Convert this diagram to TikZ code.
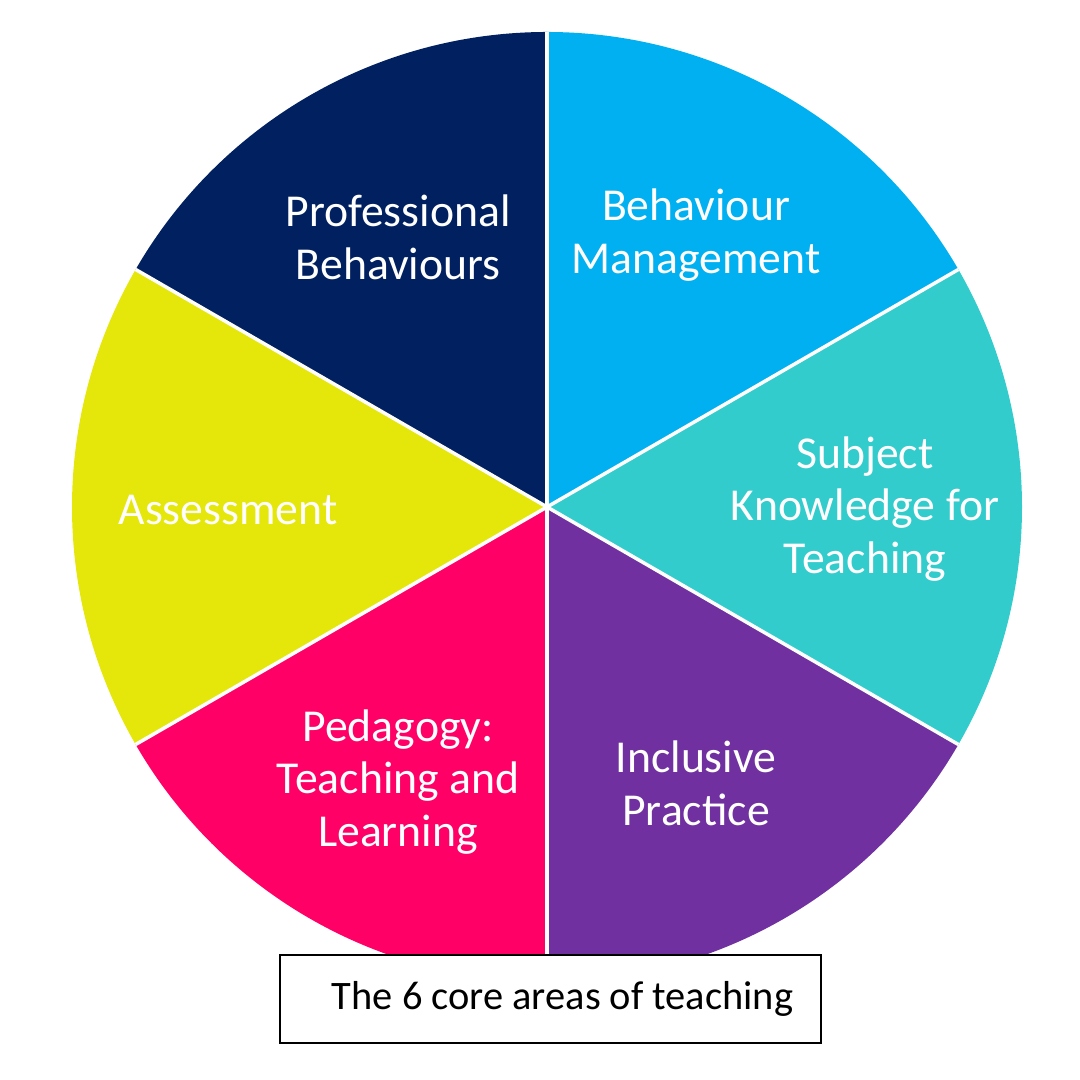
\documentclass[tikz,border=0pt]{standalone}
\usepackage{fontspec}
\setmainfont{Carlito}
\usepackage{tikz}
\usetikzlibrary{positioning, calc}

\definecolor{navyblue}{HTML}{002060}
\definecolor{skyblue}{HTML}{00B0F0}
\definecolor{tealblue}{HTML}{33CCCC}
\definecolor{deeppurple}{HTML}{7030A0}
\definecolor{hotpink}{HTML}{FF0066}
\definecolor{limeyellow}{HTML}{E5E60A}

\begin{document}
\begin{tikzpicture}[
        area/.style={text=white, align=center, font=\fontsize{13}{15}\selectfont},
        divider/.style={draw=white, line width=1pt},
        caption/.style={draw, fill=white, minimum width=5.41cm, minimum height=0.88cm, font=\fontsize{11.5}{14}\selectfont}
    ]

    \useasboundingbox (0,0) rectangle (10.8,10.8);

    % Centre of the wheel
    \coordinate (c) at (5.47,5.73);

    % Sectors
    \fill[navyblue] (c) -- ++(90:4.75) arc[start angle=90, end angle=150, radius=4.75] -- cycle;
    \fill[skyblue] (c) -- ++(30:4.75) arc[start angle=30, end angle=90, radius=4.75] -- cycle;
    \fill[tealblue] (c) -- ++(-30:4.75) arc[start angle=-30, end angle=30, radius=4.75] -- cycle;
    \fill[deeppurple] (c) -- ++(-90:4.75) arc[start angle=-90, end angle=-30, radius=4.75] -- cycle;
    \fill[hotpink] (c) -- ++(210:4.75) arc[start angle=210, end angle=270, radius=4.75] -- cycle;
    \fill[limeyellow] (c) -- ++(150:4.75) arc[start angle=150, end angle=210, radius=4.75] -- cycle;

    % Dividers
    \draw[divider] (c) -- ++(90:4.75);
    \draw[divider] (c) -- ++(30:4.75);
    \draw[divider] (c) -- ++(-30:4.75);
    \draw[divider] (c) -- ++(-90:4.75);
    \draw[divider] (c) -- ++(210:4.75);
    \draw[divider] (c) -- ++(150:4.75);

    % Labels
    \node[area] (professional) at (3.98,8.43) {Professional\\Behaviours};
    \node[area] (behaviour) at (6.96,8.45) {Behaviour\\Management};
    \node[area] (subject) at (8.65,5.71) {Subject\\Knowledge for\\Teaching};
    \node[area] (assessment) at (2.28,5.70) {Assessment};
    \node[area] (pedagogy) at (3.98,2.98) {Pedagogy:\\Teaching and\\Learning};
    \node[area] (inclusive) at (6.96,2.97) {Inclusive\\Practice};

    % Caption
    \node[caption] (title) at (5.505,0.81) {\hspace{0.24cm}The 6 core areas of teaching};

    \end{tikzpicture}
\end{document}
